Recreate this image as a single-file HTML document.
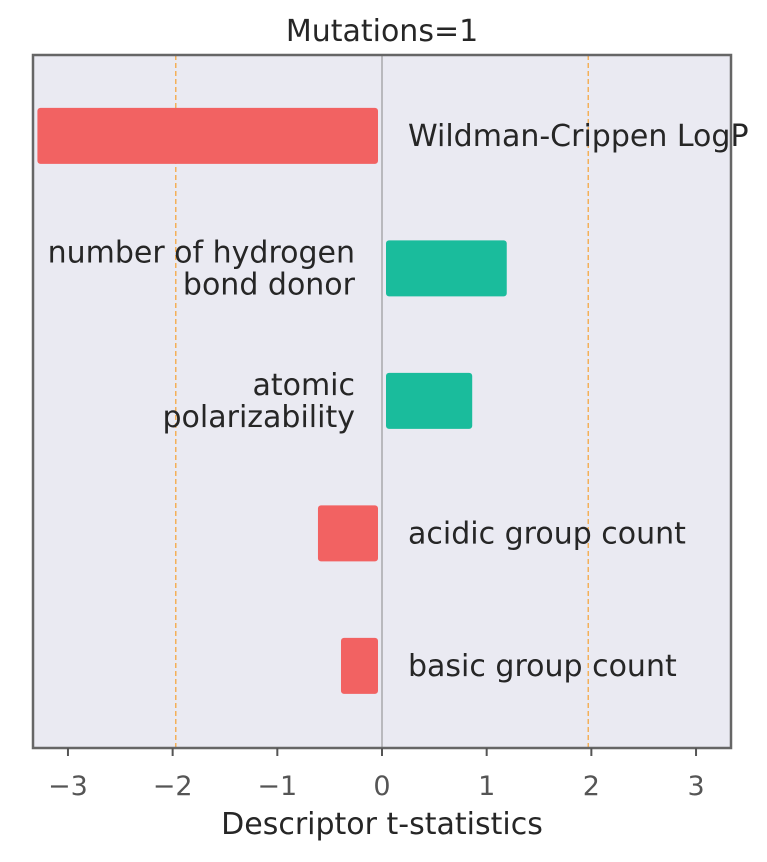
<!DOCTYPE html>
<html><head><meta charset="utf-8"><style>
body{margin:0;background:#fff;}
svg text{font-family:"DejaVu Sans","Liberation Sans",sans-serif;}
</style></head><body>
<svg id="chart" width="767" height="857" xmlns="http://www.w3.org/2000/svg">
<text x="382" y="41" text-anchor="middle" font-size="30" fill="#262626">Mutations=1</text>
<rect x="33" y="55" width="698" height="693" fill="#eaeaf2"/>
<g id="marks"></g>
<rect x="33" y="55" width="698" height="693" fill="none" stroke="#666" stroke-width="2.5"/>
<g id="ticks"></g>
<text x="382" y="834" text-anchor="middle" font-size="30" fill="#262626">Descriptor t-statistics</text>
</svg>
<script>
const categories = [["Wildman-Crippen LogP"],["number of hydrogen","bond donor"],["atomic","polarizability"],["acidic group count"],["basic group count"]];
const values = [-3.33, 1.23, 0.90, -0.65, -0.43];
const tickValues = [-3,-2,-1,0,1,2,3];
const tickLabels = ["\u22123","\u22122","\u22121","0","1","2","3"];
const threshold = 1.97;
const xMin=-3.334, xMax=3.334, L=33, R=731, T=55, B=748;
const x = v => L + (v - xMin)/(xMax - xMin)*(R-L);
const y = i => T + (i+0.61)*132.5;
const NS="http://www.w3.org/2000/svg";
function mk(tag, attrs, parent){const e=document.createElementNS(NS,tag);for(const k in attrs)e.setAttribute(k,attrs[k]);parent.appendChild(e);return e;}
const marks=document.getElementById('marks');
const ticks=document.getElementById('ticks');
[-threshold, threshold].forEach((t,j)=>{
  const l=mk('line',{x1:x(t),x2:x(t),y1:T,y2:B,stroke:'#f5a742','stroke-width':1.3,'stroke-dasharray':'5,3'},marks);
  
  
});
const z=mk('line',{x1:x(0),x2:x(0),y1:T,y2:B,stroke:'#888','stroke-width':1},marks);


values.forEach((v,i)=>{
  const cy=y(i), h=56;
  const a=Math.min(x(0),x(v))+4, b=Math.max(x(0),x(v))-4;
  const r=mk('rect',{x:a,y:cy-h/2,width:Math.max(b-a,1),height:h,rx:3,fill:v<0?'#f26262':'#1abc9c'},marks);
  
  
  const lines=categories[i];
  const t=mk('text',{'font-size':30,fill:'#262626','text-anchor':v<0?'start':'end'},marks);
  
  
  const tx=v<0?x(0)+26:x(0)-27;
  lines.forEach((s,k)=>{
    const ts=mk('tspan',{x:tx,y:cy+10+(k-(lines.length-1)/2)*32},t);
    ts.textContent=s;
  });
});
tickValues.forEach((tv,i)=>{
  const l=mk('line',{x1:x(tv),x2:x(tv),y1:B,y2:B+8,stroke:'#555','stroke-width':2},ticks);
  
  
  const t=mk('text',{x:x(tv),y:B+47,'text-anchor':'middle','font-size':27,fill:'#555'},ticks);
  t.textContent=tickLabels[i];
  
  
});
</script>
</body></html>
